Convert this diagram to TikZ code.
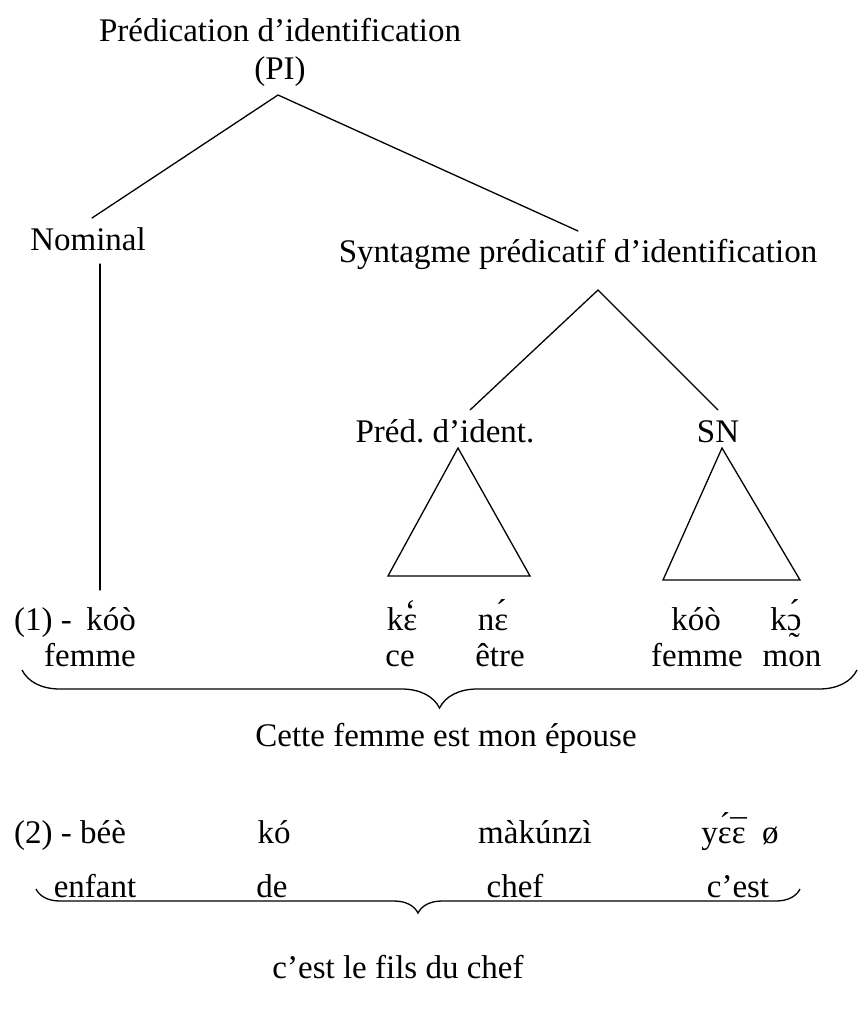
\documentclass[tikz,border=0pt]{standalone}
\usepackage{fontspec}
\setmainfont{Liberation Serif}
\usetikzlibrary{decorations.pathreplacing}
% tone marks stacked over open vowels, with spacing accent glyphs
\newcommand\tone[3]{{\ooalign{#1\cr\hidewidth\raisebox{#3}{#2}\hidewidth\cr}}}
\newcommand\acu[1]{\tone{#1}{´}{0.24em}}
\newcommand\grv[1]{\tone{#1}{`}{0.24em}}
\newcommand\mcr[1]{\tone{#1}{¯}{0.02em}}
\newcommand\tilbelow[1]{{\ooalign{#1\cr\hidewidth\raisebox{-0.78em}{˜}\hidewidth\cr}}}
\frenchspacing
\begin{document}
\begin{tikzpicture}[x=1pt,y=-1pt,
  every node/.style={font=\fontsize{33}{38}\selectfont, inner sep=0pt, anchor=base},
  branch/.style={line width=1.3pt, line cap=round},
  underbrace/.style={line width=1.3pt, decorate, decoration={brace, mirror, amplitude=#1}}]
\useasboundingbox (0,0) rectangle (859,1019);

% --- tree of example (1) ---
\node (pi1) at (280,42) {Prédication d’identification};
\node (pi)  at (280,80) {(PI)};
\node (nom) at (88,250) {Nominal};
\node (syn) at (578,262) {Syntagme prédicatif d’identification};
\node (pred) at (445,442) {Préd. d’ident.};
\node (sn)  at (718,442) {SN};

\coordinate (apex) at (278,95);
\coordinate (nomtop) at (92,218);
\coordinate (syntop) at (578,231);
\coordinate (subapex) at (598,290);
\coordinate (predtop) at (470,410);
\coordinate (sntop) at (718,410);

\draw[branch] (nomtop) -- (apex) -- (syntop);
\draw[branch] (predtop) -- (subapex) -- (sntop);

% vertical stem under Nominal
\coordinate (stemtop) at (100,264);
\coordinate (stemfoot) at (100,590);
\draw[branch] (stemtop) -- (stemfoot);

% triangles
\coordinate (ta) at (458,448);
\coordinate (tl) at (388,576);
\coordinate (tr) at (530,576);
\draw[branch, line join=miter] (ta) -- (tl) -- (tr) -- cycle;
\coordinate (sa) at (722,448);
\coordinate (sl) at (663,580);
\coordinate (sr) at (800,580);
\draw[branch, line join=miter] (sa) -- (sl) -- (sr) -- cycle;

% glosses of example (1)
\node[anchor=base west] (ex1) at (14,630) {(1) -};
\node (koo) at (111,630) {kóò};
\node (femme1) at (90,666) {femme};
\node (ke) at (402,630) {k\grv{ɛ}};
\node (ne) at (493,630) {n\acu{ɛ}};
\node (ce) at (400,666) {ce};
\node (etre) at (500,666) {être};
\node (koo2) at (696,630) {kóò};
\node (ko2) at (786,630) {k\tilbelow{\acu{ɔ}}};
\node (femme2) at (697,666) {femme};
\node (mon) at (792,666) {mon};

\coordinate (b1l) at (22,670);
\coordinate (b1r) at (857,670);
\draw[underbrace=38pt] (b1l) -- (b1r);
\node (tr1) at (446,746) {Cette femme est mon épouse};

% --- example (2) ---
\node[anchor=base west] (ex2) at (14,843) {(2) - béè};
\node (ko) at (274,843) {kó};
\node (mak) at (535,843) {màkúnzì};
\node (yee) at (740,843) {y\acu{ɛ}\mcr{ɛ}\ \ ø};
\node (enfant) at (95,897) {enfant};
\node (de) at (272,897) {de};
\node (chef) at (515,897) {chef};
\node (cest) at (738,897) {c’est};

\coordinate (b2l) at (36,889);
\coordinate (b2r) at (800,889);
\draw[underbrace=24pt] (b2l) -- (b2r);
\node (tr2) at (398,978) {c’est le fils du chef};
\end{tikzpicture}
\end{document}
